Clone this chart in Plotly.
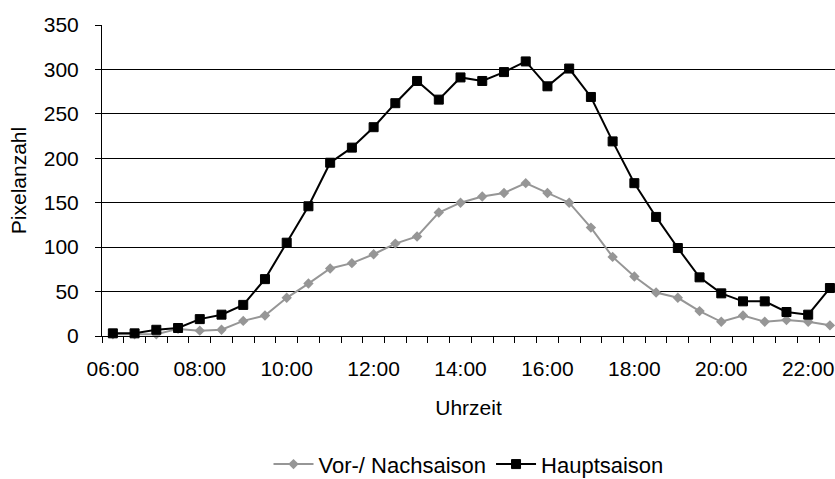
import plotly.graph_objects as go

# Half-hourly observation times
times = ["06:00", "06:30", "07:00", "07:30", "08:00", "08:30", "09:00", "09:30",
         "10:00", "10:30", "11:00", "11:30", "12:00", "12:30", "13:00", "13:30",
         "14:00", "14:30", "15:00", "15:30", "16:00", "16:30", "17:00", "17:30",
         "18:00", "18:30", "19:00", "19:30", "20:00", "20:30", "21:00", "21:30",
         "22:00", "22:30"]

# Pixel counts per time slot
vor_nachsaison = [2, 2, 2, 8, 6, 7, 17, 23, 43, 59, 76, 82, 92, 104, 112, 139,
                  150, 157, 161, 172, 161, 150, 122, 89, 67, 49, 43, 28, 16, 23,
                  16, 18, 16, 12]
hauptsaison = [3, 3, 7, 9, 19, 24, 35, 64, 105, 146, 195, 212, 235, 262, 287, 266,
               291, 287, 297, 309, 281, 301, 269, 219, 172, 134, 99, 66, 48, 39,
               39, 27, 24, 54]

x_labels = ["06:00", "08:00", "10:00", "12:00", "14:00", "16:00", "18:00", "20:00", "22:00"]
y_ticks = [0, 50, 100, 150, 200, 250, 300, 350]

DAY = "2000-01-01 "
x_dates = [DAY + t for t in times]

FONT = "Arial, Liberation Sans, sans-serif"

fig = go.Figure()
fig.add_trace(go.Scatter(
    x=x_dates, y=vor_nachsaison, name="Vor-/ Nachsaison",
    mode="lines+markers",
    line=dict(color="#969696", width=2),
    marker=dict(symbol="diamond", size=8, color="#969696"),
    cliponaxis=False,
))
fig.add_trace(go.Scatter(
    x=x_dates, y=hauptsaison, name="Hauptsaison",
    mode="lines+markers",
    line=dict(color="#000000", width=2),
    marker=dict(symbol="square", size=9, color="#000000",
                line=dict(color="#000000", width=1)),
    cliponaxis=False,
))

fig.update_layout(
    width=835, height=479,
    margin=dict(l=102, r=0, t=25, b=143, autoexpand=False),
    paper_bgcolor="white", plot_bgcolor="white",
    font=dict(family=FONT, size=21, color="#000000"),
    showlegend=True,
    legend=dict(orientation="h", x=0.5, xanchor="center",
                y=-0.48, yanchor="bottom",
                font=dict(size=22), itemwidth=40, traceorder="normal",
                bgcolor="rgba(0,0,0,0)"),
    xaxis=dict(
        type="date",
        range=[DAY + "05:45", DAY + "22:37"],
        tickvals=[DAY + t for t in x_labels],
        ticktext=x_labels,
        ticks="", showgrid=False,
        ticklabelstandoff=14,
        showline=True, linecolor="#000000", linewidth=1,
        minor=dict(ticks="outside", ticklen=6, tickcolor="#000000", tickwidth=1,
                   tick0=DAY + "05:45", dtick=30 * 60 * 1000, showgrid=False),
        title=dict(text="Uhrzeit", standoff=21, font=dict(size=21)),
        zeroline=False,
        automargin=False,
    ),
    yaxis=dict(
        range=[0, 350],
        tickvals=y_ticks,
        ticks="outside", ticklen=6, tickcolor="#000000",
        ticklabelstandoff=12,
        showgrid=True, gridcolor="#000000", gridwidth=1,
        showline=True, linecolor="#000000", linewidth=1,
        zeroline=False,
        title=dict(text="Pixelanzahl", standoff=11, font=dict(size=21)),
        automargin=False,
    ),
)

fig.write_html("out.html")
